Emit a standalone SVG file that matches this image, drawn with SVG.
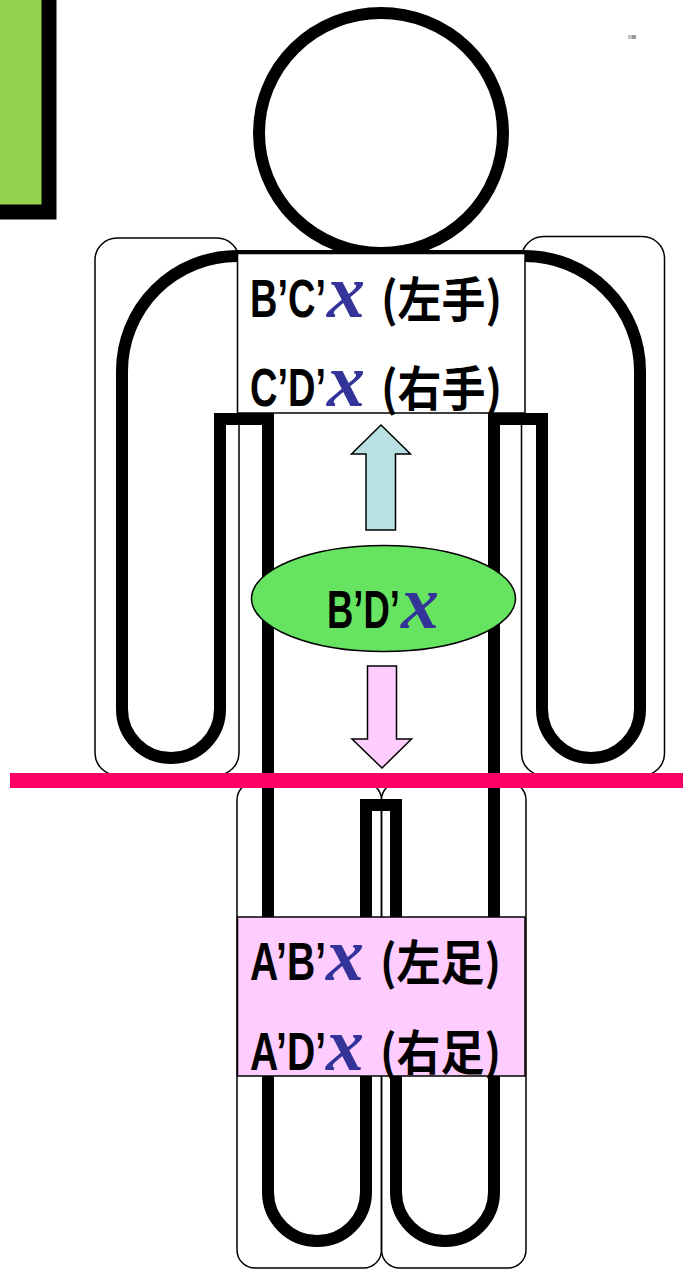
<svg xmlns="http://www.w3.org/2000/svg" width="683" height="1269" viewBox="0 0 683 1269">
<style>
.thick{fill:none;stroke:#000;stroke-width:12;stroke-linejoin:miter}
.limb{fill:none;stroke:#000;stroke-width:1.5}
.box{stroke:#000;stroke-width:1.5}
.lbl{font-family:"Liberation Sans","Noto Sans",sans-serif;font-weight:bold;font-size:53px;fill:#000}
.var{font-family:"Liberation Serif","DejaVu Serif",serif;font-weight:bold;font-style:italic;font-size:76px;fill:#333399}
.cjk{font-family:"Noto Sans CJK JP","Noto Sans CJK SC",sans-serif;font-weight:bold;font-size:48px;fill:#000}
.arrow{stroke:#000;stroke-width:1.5;stroke-linejoin:miter}
</style>
<rect width="683" height="1269" fill="#fff"/>
<g id="corner-tab">
<rect x="-10" y="-10" width="59" height="222" fill="#92D050" stroke="#000" stroke-width="15"/>
</g>
<rect x="628" y="35" width="4" height="4" fill="#c4c4c4"/>
<rect x="632" y="35" width="4" height="4" fill="#999"/>
<g id="figure">
<ellipse cx="381" cy="133" rx="122" ry="120" class="thick"/>
<path class="thick" d="M268,1192 L268,419 L220,419 L220,709 A49,49 0 0 1 122,709 L122,371 A115,115 0 0 1 237,256 L525,256 A115,115 0 0 1 640,371 L640,709 A49,49 0 0 1 542,709 L542,419 L494,419 L494,1192 A49,49 0 0 1 396,1192 L396,805 L366,805 L366,1192 A49,49 0 0 1 268,1192 Z"/>
</g>
<g id="left-arm"><rect class="limb" x="95" y="238" width="144" height="537" rx="22"/></g>
<g id="right-arm"><rect class="limb" x="521.5" y="236.5" width="143" height="539" rx="22"/></g>
<g id="left-leg"><rect class="limb" x="237" y="782" width="144.5" height="486" rx="18"/></g>
<g id="right-leg"><rect class="limb" x="381.5" y="782" width="144.5" height="486" rx="18"/></g>
<g id="hands-box">
<rect class="box" x="237.5" y="253.5" width="287.5" height="159.5" fill="#fff"/>
<text class="lbl" y="317"><tspan x="250" textLength="76" lengthAdjust="spacingAndGlyphs">B’C’</tspan><tspan class="var" x="327">x</tspan><tspan class="cjk" x="381" textLength="121" lengthAdjust="spacingAndGlyphs">(左手)</tspan></text>
<text class="lbl" y="406"><tspan x="250" textLength="76" lengthAdjust="spacingAndGlyphs">C’D’</tspan><tspan class="var" x="327">x</tspan><tspan class="cjk" x="381" textLength="121" lengthAdjust="spacingAndGlyphs">(右手)</tspan></text>
</g>
<g id="center-node">
<ellipse cx="383.5" cy="598.5" rx="132" ry="53" fill="#66E360" stroke="#000" stroke-width="1.5"/>
<text class="lbl" y="628"><tspan x="327" textLength="73" lengthAdjust="spacingAndGlyphs">B’D’</tspan><tspan class="var" x="401">x</tspan></text>
</g>
<g id="feet-box">
<rect class="box" x="237.5" y="917" width="287.5" height="159" fill="#FFCCFF"/>
<text class="lbl" y="980"><tspan x="250" textLength="76" lengthAdjust="spacingAndGlyphs">A’B’</tspan><tspan class="var" x="326">x</tspan><tspan class="cjk" x="380" textLength="121" lengthAdjust="spacingAndGlyphs">(左足)</tspan></text>
<text class="lbl" y="1070"><tspan x="250" textLength="76" lengthAdjust="spacingAndGlyphs">A’D’</tspan><tspan class="var" x="326">x</tspan><tspan class="cjk" x="380" textLength="121" lengthAdjust="spacingAndGlyphs">(右足)</tspan></text>
</g>
<g id="connectors">
<polygon class="arrow" fill="#B9E0E2" points="381,425 351.5,454 366,454 366,530 395.5,530 395.5,454 410.5,454"/>
<polygon class="arrow" fill="#FFCCFF" points="367.5,666 396.5,666 396.5,739 411.5,739 382,768 352,739 367.5,739"/>
</g>
<g id="divider">
<rect x="10" y="773" width="673" height="15" fill="#FF0066"/>
</g>
</svg>
